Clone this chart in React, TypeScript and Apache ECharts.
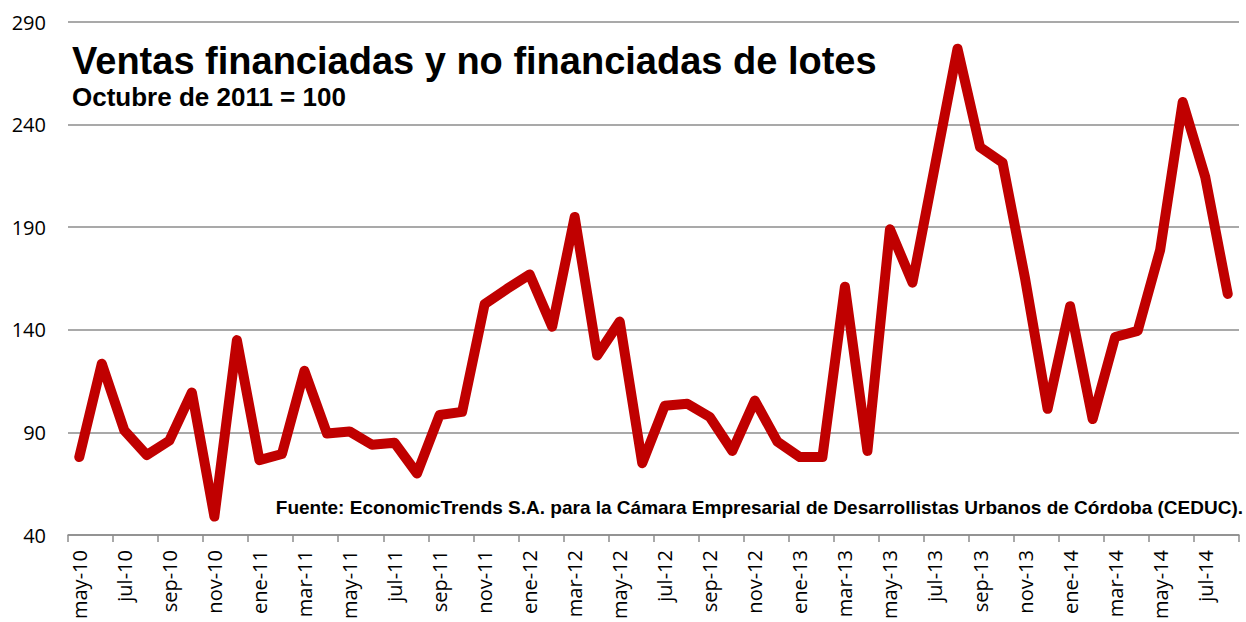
import React, { useEffect, useRef } from "react";
import * as echarts from "echarts";

const months = ["ene", "feb", "mar", "abr", "may", "jun", "jul", "ago", "sep", "oct", "nov", "dic"];
const categories: string[] = [];
for (let y = 2010; y <= 2014; y++) {
  for (let m = 0; m < 12; m++) {
    if (y === 2010 && m < 4) continue;
    if (y === 2014 && m > 7) continue;
    categories.push(`${months[m]}-${String(y).slice(2)}`);
  }
}

const values = [
  78, 123.5, 91, 79, 86, 109.5, 49, 135,
  76.5, 79.5, 120, 89.5, 90.5, 84, 85, 70, 98.5, 100, 152.5, 160,
  167, 141.5, 195, 127.5, 144, 75, 103, 104, 97.5, 81, 105.5, 85.5,
  78, 78, 161, 81, 189, 163, 220, 277, 229, 221.5, 165, 101.5,
  151.5, 96.5, 136.5, 139.5, 179, 251, 214.5, 157.5,
];

const yTicks = { min: 40, max: 290, interval: 50 };

const titleText = "Ventas financiadas y no financiadas de lotes";
const subtitleText = "Octubre de 2011 = 100";
const sourceText =
  "Fuente: EconomicTrends S.A. para la Cámara Empresarial de Desarrollistas Urbanos de Córdoba (CEDUC).";

export default function App() {
  const ref = useRef<HTMLDivElement>(null);
  useEffect(() => {
    if (!ref.current) return;
    const chart = echarts.init(ref.current, null, { renderer: "svg" });
    chart.setOption({
      animation: false,
      backgroundColor: "#ffffff",
      grid: { left: 68, right: 7, top: 22, bottom: 85 },
      xAxis: {
        type: "category",
        data: categories,
        boundaryGap: true,
        axisLine: { lineStyle: { color: "#8c8c8c", width: 1.5 } },
        axisTick: { show: true, interval: 1, length: 7, lineStyle: { color: "#8c8c8c", width: 1.5 } },
        axisLabel: {
          interval: 1,
          rotate: 90,
          fontSize: 20,
          color: "#000",
          fontFamily: "Open Sans, Liberation Sans, sans-serif",
          margin: 15,
        },
        splitLine: { show: false },
      },
      yAxis: {
        type: "value",
        min: yTicks.min,
        max: yTicks.max,
        interval: yTicks.interval,
        axisLine: { show: false },
        axisTick: { show: false },
        axisLabel: {
          fontSize: 20,
          color: "#000",
          fontFamily: "Open Sans, Liberation Sans, sans-serif",
          margin: 22,
        },
        splitLine: { lineStyle: { color: "#8c8c8c", width: 1.5 } },
      },
      series: [
        {
          type: "line",
          data: values,
          symbol: "none",
          lineStyle: { color: "#c00000", width: 10, cap: "round", join: "round" },
        },
      ],
      graphic: [
        {
          type: "text",
          left: 72,
          top: 42,
          style: {
            text: titleText,
            fontSize: 38,
            fontWeight: "bold",
            fontFamily: "Liberation Sans, Arial, sans-serif",
            fill: "#000",
          },
        },
        {
          type: "text",
          left: 72,
          top: 84,
          style: {
            text: subtitleText,
            fontSize: 26,
            fontWeight: "bold",
            fontFamily: "Liberation Sans, Arial, sans-serif",
            fill: "#000",
          },
        },
        {
          type: "text",
          right: 3,
          top: 498,
          style: {
            text: sourceText,
            fontSize: 19,
            fontWeight: "bold",
            fontFamily: "Liberation Sans, Arial, sans-serif",
            fill: "#000",
          },
        },
      ],
    });
    return () => chart.dispose();
  }, []);
  return (
    <div
      ref={ref}
      style={{ position: "fixed", left: 0, top: 0, width: 1246, height: 622, background: "#fff" }}
    />
  );
}
